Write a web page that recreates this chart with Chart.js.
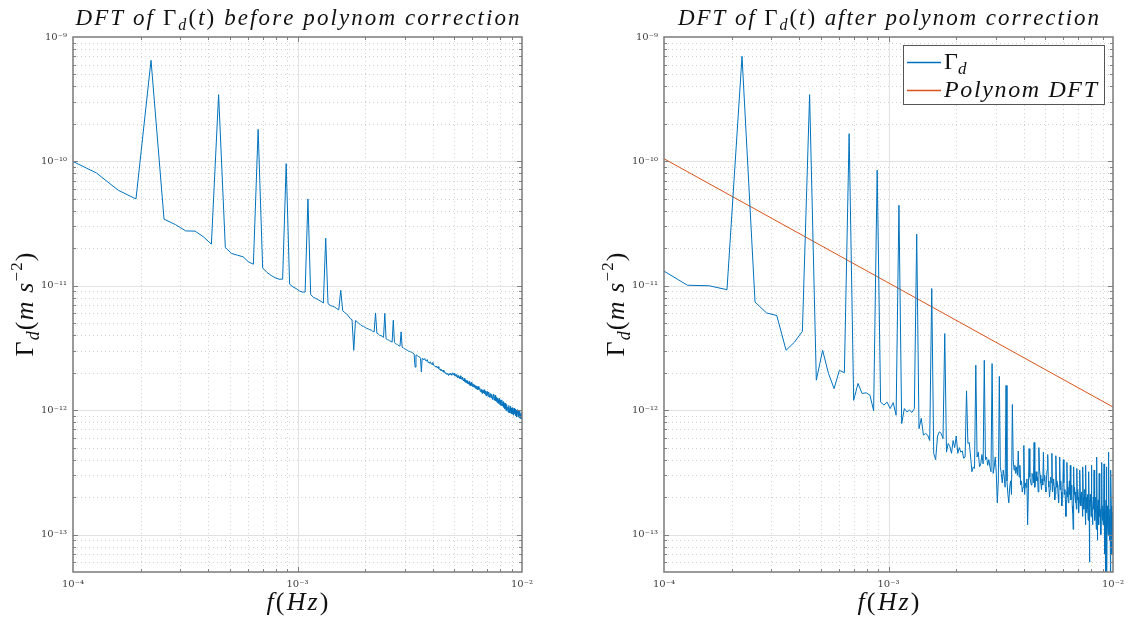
<!DOCTYPE html>
<html><head><meta charset="utf-8">
<script src="https://cdn.jsdelivr.net/npm/chart.js@4.4.1/dist/chart.umd.min.js"></script>
<style>
html,body{margin:0;padding:0;background:#fff;}
#wrap{position:relative;width:1135px;height:620px;overflow:hidden;background:#fff;}
#c1{position:absolute;left:0;top:0;}
#c2{position:absolute;left:567px;top:0;}
</style></head><body>
<div id="wrap"><canvas id="c1" width="567" height="620"></canvas><canvas id="c2" width="568" height="620"></canvas></div>
<script>
// ---- DFT frequency grid (bin spacing read from the harmonic positions) ----
const FREQ_STEP_HZ = 3.18e-5;
const FIRST_BIN = 3;

// ---- Gamma_d DFT amplitude before polynom correction, in 1e-12 m s^-2 (bins 3..315) ----
const gammaBefore_pico = [
104, 80.7, 58.6, 49.9, 650, 34.3, 31.0, 27.6, 27.5, 24.7,
21.6, 344, 20.3, 18.2, 17.6, 17.1, 15.6, 14.9, 181, 13.9,
12.8, 12.1, 11.6, 11.3, 11.3, 96, 10.3, 9.8, 9.5, 9.1,
8.9, 8.9, 49.9, 8.5, 8.1, 7.9, 7.7, 7.5, 7.27, 24.1,
7.19, 6.95, 6.85, 6.75, 6.56, 6.4, 9.2, 6.3, 6.1, 5.95,
5.72, 5.45, 5.35, 3.03, 5.25, 5.15, 4.97, 4.87, 4.75, 4.71,
4.62, 4.55, 4.5, 4.44, 4.4, 4.3, 4.25, 6.05, 4.15, 4.1,
4.0, 3.98, 3.92, 3.85, 6.0, 3.75, 3.7, 3.66, 3.6, 3.58,
3.52, 5.28, 3.5, 3.42, 3.4, 3.33, 3.3, 3.27, 4.26, 3.2,
3.18, 3.12, 3.1, 3.06, 3.04, 2.98, 2.97, 2.95, 2.93, 2.9,
2.88, 2.82, 2.22, 2.78, 2.76, 2.72, 2.7, 2.68, 2.6, 2.03,
2.62, 2.58, 2.55, 2.6, 2.5, 2.48, 2.55, 2.42, 2.44, 2.38,
2.45, 2.35, 2.33, 2.42, 2.3, 2.28, 2.26, 2.22, 2.25, 2.18,
2.24, 2.15, 2.12, 2.14, 2.08, 2.1, 2.05, 2.1, 2.02, 2.04,
1.98, 2.0, 1.94, 1.97, 1.95, 1.9, 1.96, 1.92, 1.98, 1.95,
1.91, 2.0, 1.96, 1.93, 1.97, 1.89, 1.91, 1.86, 1.94, 1.86,
1.82, 1.9, 1.84, 1.8, 1.89, 1.78, 1.82, 1.76, 1.84, 1.74,
1.72, 1.8, 1.7, 1.75, 1.67, 1.72, 1.64, 1.73, 1.66, 1.62,
1.7, 1.59, 1.65, 1.57, 1.67, 1.59, 1.55, 1.63, 1.54, 1.61,
1.53, 1.59, 1.5, 1.57, 1.48, 1.56, 1.52, 1.46, 1.55, 1.48,
1.47, 1.50, 1.41, 1.44, 1.47, 1.40, 1.36, 1.45, 1.42, 1.38,
1.46, 1.35, 1.39, 1.42, 1.33, 1.30, 1.38, 1.41, 1.34, 1.29,
1.36, 1.40, 1.31, 1.27, 1.33, 1.36, 1.26, 1.30, 1.34, 1.25,
1.22, 1.31, 1.35, 1.24, 1.20, 1.28, 1.32, 1.19, 1.23, 1.27,
1.18, 1.15, 1.25, 1.21, 1.13, 1.19, 1.24, 1.14, 1.10, 1.20,
1.16, 1.09, 1.13, 1.21, 1.08, 1.12, 1.17, 1.05, 1.10, 1.14,
1.02, 1.07, 1.13, 1.04, 0.99, 1.08, 1.11, 1.01, 1.06, 1.03,
0.96, 1.05, 1.09, 0.98, 1.03, 0.95, 1.07, 1.00, 0.94, 1.04,
0.99, 0.93, 1.05, 0.97, 1.01, 0.91, 0.98, 1.04, 0.93, 0.96,
1.02, 0.90, 0.95, 1.00, 0.92, 0.88, 0.99, 0.94, 1.01, 0.89,
0.93, 0.98, 0.87, 0.95, 0.91, 0.99, 0.86, 0.94, 0.90, 0.85,
0.95, 0.89, 0.92
];

// ---- Gamma_d DFT amplitude after polynom correction, in 1e-12 m s^-2 (bins 3..315) ----
const gammaAfter_pico = [
13.8, 10.1, 10.0, 9.3, 700, 7.4, 6.05, 5.76, 3.03, 3.53,
4.31, 344, 1.74, 3.03, 1.97, 1.49, 2.09, 2.0, 167, 1.2,
1.64, 1.36, 1.38, 1.32, 0.99, 85, 1.16, 1.1, 1.16, 1.03,
1.15, 0.91, 44.4, 0.78, 1.03, 0.97, 1.0, 0.96, 1.03, 26,
0.71, 0.86, 0.63, 0.65, 0.63, 0.57, 9.5, 0.45, 0.40, 0.62,
0.67, 0.65, 0.59, 4.13, 0.46, 0.54, 0.51, 0.45, 0.57, 0.5,
0.62, 0.45, 0.5, 0.46, 0.47, 0.41, 0.42, 1.43, 0.54, 0.55,
0.42, 0.32, 0.35, 0.34, 2.3, 0.42, 0.46, 0.35, 0.37, 0.44,
0.37, 2.52, 0.4, 0.42, 0.36, 0.4, 0.35, 0.32, 2.37, 0.31,
0.35, 0.42, 0.31, 0.18, 0.27, 1.87, 0.35, 0.31, 0.26, 0.33,
0.29, 0.24, 1.58, 0.27, 0.21, 0.18, 0.24, 0.27, 0.21, 1.11,
0.40, 0.33, 0.36, 0.31, 0.35, 0.30, 0.47, 0.29, 0.36, 0.25,
0.27, 0.22, 0.24, 0.52, 0.21, 0.26, 0.24, 0.28, 0.12, 0.22,
0.49, 0.29, 0.27, 0.25, 0.31, 0.30, 0.26, 0.55, 0.24, 0.28,
0.32, 0.27, 0.29, 0.22, 0.50, 0.33, 0.30, 0.26, 0.23, 0.28,
0.25, 0.46, 0.27, 0.30, 0.24, 0.22, 0.29, 0.33, 0.44, 0.27,
0.24, 0.20, 0.23, 0.29, 0.26, 0.45, 0.22, 0.25, 0.28, 0.24,
0.19, 0.21, 0.43, 0.27, 0.24, 0.26, 0.21, 0.18, 0.25, 0.42,
0.23, 0.27, 0.22, 0.17, 0.20, 0.24, 0.40, 0.26, 0.21, 0.23,
0.19, 0.14, 0.22, 0.38, 0.24, 0.20, 0.18, 0.23, 0.27, 0.21,
0.36, 0.19, 0.22, 0.25, 0.17, 0.15, 0.11, 0.35, 0.21, 0.24,
0.20, 0.18, 0.22, 0.16, 0.34, 0.19, 0.23, 0.20, 0.15, 0.18,
0.24, 0.33, 0.21, 0.17, 0.19, 0.22, 0.18, 0.14, 0.35, 0.20,
0.16, 0.19, 0.23, 0.17, 0.12, 0.36, 0.15, 0.20, 0.18, 0.21,
0.16, 0.13, 0.32, 0.19, 0.06, 0.17, 0.21, 0.18, 0.14, 0.36,
0.19, 0.15, 0.12, 0.17, 0.20, 0.16, 0.33, 0.18, 0.13, 0.16,
0.20, 0.15, 0.11, 0.42, 0.17, 0.09, 0.14, 0.19, 0.16, 0.12,
0.31, 0.18, 0.14, 0.16, 0.12, 0.10, 0.17, 0.38, 0.15, 0.13,
0.17, 0.12, 0.16, 0.14, 0.37, 0.18, 0.07, 0.13, 0.045, 0.16,
0.19, 0.35, 0.04, 0.14, 0.17, 0.12, 0.10, 0.16, 0.46, 0.14,
0.11, 0.09, 0.16, 0.035, 0.13, 0.33, 0.17, 0.12, 0.07, 0.15,
0.13, 0.10, 0.14
];

// ---- Polynom DFT (straight line in log-log) ----
const polyFreq = [1e-4, 1e-2];
const polyDFT  = [1.05e-10, 1.06e-12];

// ---- axes ----
const X_RANGE = [1e-4, 1e-2];
const Y_RANGE = [5e-14, 1e-9];
const X_TICK_VALUES = [1e-4, 1e-3, 1e-2];
const X_TICK_LABELS = ['10\u207B\u2074', '10\u207B\u00B3', '10\u207B\u00B2'];
const Y_TICK_VALUES = [1e-13, 1e-12, 1e-11, 1e-10, 1e-9];
const Y_TICK_LABELS = ['10\u207B\u00B9\u00B3', '10\u207B\u00B9\u00B2', '10\u207B\u00B9\u00B9', '10\u207B\u00B9\u2070', '10\u207B\u2079'];
const X_DECADES = [1e-4, 1e-3, 1e-2];
const Y_DECADES = [1e-14, 1e-13, 1e-12, 1e-11, 1e-10, 1e-9];

const BLUE = '#0072BD', ORANGE = '#D95319';
const MATHF = '"Liberation Serif","DejaVu Serif",serif';
const TICKF = '"DejaVu Serif","Liberation Serif",serif';

const PICO = 1e-12;
function toPoints(vals){ return vals.map((v,i)=>({x:(FIRST_BIN+i)*FREQ_STEP_HZ, y:v*PICO})); }

function labelFor(v, vals, labels){
  for (let i=0;i<vals.length;i++){ if (Math.abs(Math.log10(v)-Math.log10(vals[i]))<1e-6) return labels[i]; }
  return '';
}

function richMeasure(ctx, parts){
  let w=0,n=0;
  for (const p of parts){ ctx.font=p.font; for (const ch of p.t){ w+=ctx.measureText(ch).width; n++; } }
  return {w,n};
}
function drawRich(ctx, parts, x, y, targetW, align){
  const m = richMeasure(ctx, parts);
  const sp = targetW ? (targetW - m.w)/Math.max(1,m.n-1) : 0;
  const total = targetW || m.w;
  let cx = align==='center' ? x - total/2 : x;
  ctx.textAlign='left'; ctx.textBaseline='alphabetic';
  for (const p of parts){ ctx.font=p.font; for (const ch of p.t){ ctx.fillText(ch, cx, y+(p.dy||0)); cx += ctx.measureText(ch).width + sp; } }
}
const it = s => `italic ${s}px ${MATHF}`;
const up = s => `${s}px ${MATHF}`;

const axesPlugin = {
  id: 'matlabAxes',
  beforeDatasetsDraw(chart){
    const {ctx, chartArea:a, scales:{x,y}} = chart;
    ctx.save();
    ctx.lineWidth = 1;
    ctx.setLineDash([1,3]); ctx.strokeStyle = '#d2d2d2';
    for (const d of X_DECADES) for (let m=2;m<=9;m++){ const v=m*d; if (v<=x.min||v>=x.max) continue;
      const px=Math.round(x.getPixelForValue(v))+0.5; ctx.beginPath(); ctx.moveTo(px,a.top); ctx.lineTo(px,a.bottom); ctx.stroke(); }
    for (const d of Y_DECADES) for (let m=2;m<=9;m++){ const v=m*d; if (v<=y.min||v>=y.max) continue;
      const py=Math.round(y.getPixelForValue(v))+0.5; ctx.beginPath(); ctx.moveTo(a.left,py); ctx.lineTo(a.right,py); ctx.stroke(); }
    ctx.setLineDash([]); ctx.strokeStyle = '#e2e2e2';
    for (const v of X_DECADES){ if (v<=x.min||v>=x.max) continue; const px=Math.round(x.getPixelForValue(v))+0.5;
      ctx.beginPath(); ctx.moveTo(px,a.top); ctx.lineTo(px,a.bottom); ctx.stroke(); }
    for (const v of Y_DECADES){ if (v<=y.min||v>=y.max) continue; const py=Math.round(y.getPixelForValue(v))+0.5;
      ctx.beginPath(); ctx.moveTo(a.left,py); ctx.lineTo(a.right,py); ctx.stroke(); }
    ctx.restore();
  },
  afterDatasetsDraw(chart){
    const {ctx, chartArea:a, scales:{x,y}} = chart;
    ctx.save();
    ctx.strokeStyle = '#808080'; ctx.lineWidth = 1;
    const tick = (v, major, axis) => {
      const L = major ? 5 : 3;
      if (axis==='x'){ const px=Math.round(x.getPixelForValue(v))+0.5;
        ctx.beginPath(); ctx.moveTo(px,a.bottom); ctx.lineTo(px,a.bottom-L); ctx.moveTo(px,a.top); ctx.lineTo(px,a.top+L); ctx.stroke(); }
      else { const py=Math.round(y.getPixelForValue(v))+0.5;
        ctx.beginPath(); ctx.moveTo(a.left,py); ctx.lineTo(a.left+L,py); ctx.moveTo(a.right,py); ctx.lineTo(a.right-L,py); ctx.stroke(); }
    };
    for (const d of X_DECADES){ if (d>x.min && d<x.max) tick(d,true,'x'); for (let m=2;m<=9;m++){ const v=m*d; if (v>x.min&&v<x.max) tick(v,false,'x'); } }
    for (const d of Y_DECADES){ if (d>y.min && d<y.max) tick(d,true,'y'); for (let m=2;m<=9;m++){ const v=m*d; if (v>y.min&&v<y.max) tick(v,false,'y'); } }
    ctx.lineWidth = 1.5; ctx.strokeStyle = '#7a7a7a';
    ctx.strokeRect(a.left, a.top, a.right-a.left, a.bottom-a.top);
    ctx.restore();
  },
  afterDraw(chart){
    const o = chart.options.plugins.matlabAxes;
    const {ctx, chartArea:a} = chart;
    const cx = (a.left+a.right)/2;
    ctx.save(); ctx.fillStyle = '#111';
    drawRich(ctx, [
      {t:'DFT of ', font:it(23)}, {t:'\u0393', font:up(23)}, {t:'d', font:it(16), dy:5},
      {t:'(', font:up(23)}, {t:'t', font:it(23)}, {t:')', font:up(23)},
      {t:' '+o.titleWord+' polynom correction', font:it(23)}
    ], cx, 25, o.titleW, 'center');
    drawRich(ctx, [{t:'f', font:it(26)}, {t:'(', font:up(26)}, {t:'Hz', font:it(26)}, {t:')', font:up(26)}], cx, 610, 62, 'center');
    ctx.save();
    ctx.translate(a.left - o.yLabelDx, (a.top+a.bottom)/2);
    ctx.rotate(-Math.PI/2);
    drawRich(ctx, [{t:'\u0393', font:up(26)}, {t:'d', font:it(18), dy:6}, {t:'(', font:up(26)}, {t:'m s', font:it(26)},
      {t:'\u2212', font:up(17), dy:-11}, {t:'2', font:up(17), dy:-11}, {t:')', font:up(26)}], 0, 0, 104, 'center');
    ctx.restore();
    if (o.legend){
      const bx = a.right - 210, by = a.top + 8, bw = 201, bh = 59;
      ctx.fillStyle = '#fff'; ctx.fillRect(bx, by, bw, bh);
      ctx.strokeStyle = '#555'; ctx.lineWidth = 1; ctx.strokeRect(bx+0.5, by+0.5, bw, bh);
      ctx.lineWidth = 1.4;
      ctx.strokeStyle = BLUE; ctx.beginPath(); ctx.moveTo(bx+4, by+17.5); ctx.lineTo(bx+38, by+17.5); ctx.stroke();
      ctx.strokeStyle = ORANGE; ctx.beginPath(); ctx.moveTo(bx+4, by+45.5); ctx.lineTo(bx+38, by+45.5); ctx.stroke();
      ctx.fillStyle = '#111';
      drawRich(ctx, [{t:'\u0393', font:up(24)}, {t:'d', font:it(17), dy:5}], bx+41, by+24, 0, 'left');
      drawRich(ctx, [{t:'Polynom DFT', font:it(24)}], bx+41, by+52, 153, 'left');
    }
    ctx.restore();
  }
};

function makeChart(canvasId, datasets, padRight, yAxisW, extra){
  return new Chart(document.getElementById(canvasId), {
    type: 'line',
    data: { datasets },
    options: {
      responsive: false, animation: false, devicePixelRatio: 1,
      layout: { padding: { left: 0, right: padRight, top: 37, bottom: 0 } },
      plugins: { legend: { display: false }, tooltip: { enabled: false }, title: { display: false }, matlabAxes: extra },
      elements: { point: { radius: 0 }, line: { tension: 0, borderWidth: 1 } },
      scales: {
        x: {
          type: 'logarithmic', min: X_RANGE[0], max: X_RANGE[1],
          grid: { display: false, drawTicks: false }, border: { display: false },
          afterBuildTicks: s => { s.ticks = X_TICK_VALUES.map(v => ({ value: v })); },
          afterFit: s => { s.height = 48; },
          ticks: { autoSkip: false, maxRotation: 0, minRotation: 0, padding: 6, color: '#404040',
            font: { family: TICKF, size: 10 }, callback: v => labelFor(v, X_TICK_VALUES, X_TICK_LABELS) }
        },
        y: {
          type: 'logarithmic', min: Y_RANGE[0], max: Y_RANGE[1],
          grid: { display: false, drawTicks: false }, border: { display: false },
          afterBuildTicks: s => { s.ticks = Y_TICK_VALUES.map(v => ({ value: v })); },
          afterFit: s => { s.width = yAxisW; },
          ticks: { autoSkip: false, padding: 6, color: '#404040',
            font: { family: TICKF, size: 10 }, callback: v => labelFor(v, Y_TICK_VALUES, Y_TICK_LABELS) }
        }
      }
    },
    plugins: [axesPlugin]
  });
}

makeChart('c1', [
  { label: '\u0393d', data: toPoints(gammaBefore_pico), borderColor: BLUE, borderWidth: 1, fill: false }
], 45, 73, { titleWord: 'before', titleW: 444, yLabelDx: 40, legend: false });

makeChart('c2', [
  { label: '\u0393d', data: toPoints(gammaAfter_pico), borderColor: BLUE, borderWidth: 1, fill: false },
  { label: 'Polynom DFT', data: polyFreq.map((f,i)=>({x:f, y:polyDFT[i]})), borderColor: ORANGE, borderWidth: 1, fill: false }
], 22, 97, { titleWord: 'after', titleW: 421, yLabelDx: 40, legend: true });
</script></body></html>
